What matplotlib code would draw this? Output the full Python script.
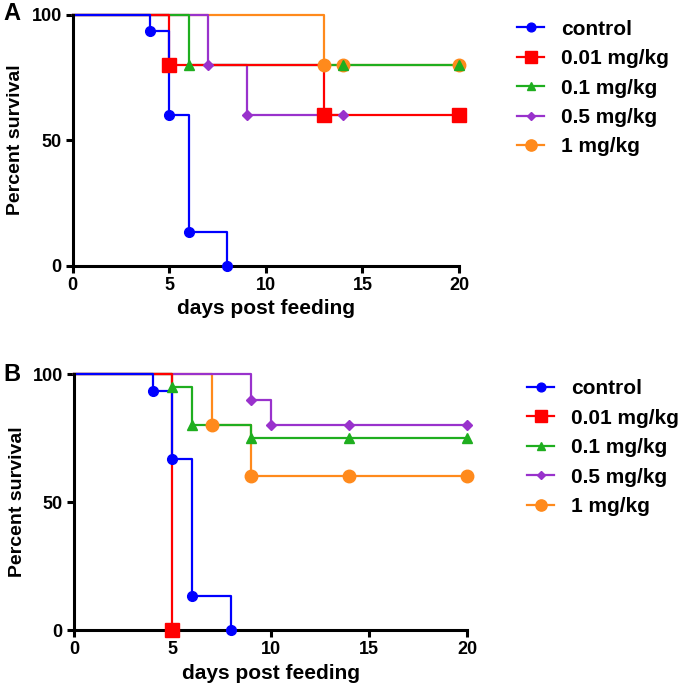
import matplotlib
matplotlib.use("Agg")
import matplotlib.pyplot as plt

plt.rcParams["font.family"] = ["Liberation Sans", "DejaVu Sans"]
plt.rcParams["font.weight"] = "bold"

labels = ["control", "0.01 mg/kg", "0.1 mg/kg", "0.5 mg/kg", "1 mg/kg"]
colors = ["#0000ff", "#ff0000", "#1fae1f", "#9932cc", "#ff8a1c"]
markers = ["o", "s", "^", "D", "o"]
msizes = [7, 9.5, 7, 5, 9]

# panel A: step days / percent survival (markers at every point after day 0)
a_control_t = [0, 4, 5, 6, 8]
a_control_s = [100, 93.3, 60, 13.3, 0]
a_001_t = [0, 5, 13, 20]
a_001_s = [100, 80, 60, 60]
a_01_t = [0, 6, 14, 20]
a_01_s = [100, 80, 80, 80]
a_05_t = [0, 7, 9, 14]
a_05_s = [100, 80, 60, 60]
a_1_t = [0, 13, 14, 20]
a_1_s = [100, 80, 80, 80]

# panel B
b_control_t = [0, 4, 5, 6, 8]
b_control_s = [100, 93.3, 66.7, 13.3, 0]
b_001_t = [0, 5]
b_001_s = [100, 0]
b_01_t = [0, 5, 6, 9, 14, 20]
b_01_s = [100, 95, 80, 75, 75, 75]
b_05_t = [0, 9, 10, 14, 20]
b_05_s = [100, 90, 80, 80, 80]
b_1_t = [0, 7, 9, 14, 20]
b_1_s = [100, 80, 60, 60, 60]

panel_a = [(a_control_t, a_control_s), (a_001_t, a_001_s), (a_01_t, a_01_s),
           (a_05_t, a_05_s), (a_1_t, a_1_s)]
panel_b = [(b_control_t, b_control_s), (b_001_t, b_001_s), (b_01_t, b_01_s),
           (b_05_t, b_05_s), (b_1_t, b_1_s)]


def draw_panel(ax, series):
    # reversed so control / red sit on top like the original
    for i in reversed(range(len(series))):
        t, s = series[i]
        ax.step(t, s, where="post", color=colors[i], lw=1.6, clip_on=False, zorder=2)
        ax.plot(t[1:], s[1:], ls="none", marker=markers[i], ms=msizes[i],
                color=colors[i], mec=colors[i], clip_on=False, zorder=3 + (4 - i) * 0.1)
    ax.set_xlim(0, 20)
    ax.set_ylim(0, 100)
    ax.set_xticks([0, 5, 10, 15, 20])
    ax.set_yticks([0, 50, 100])
    for sp in ["top", "right"]:
        ax.spines[sp].set_visible(False)
    for sp in ["left", "bottom"]:
        ax.spines[sp].set_linewidth(2.2)
    ax.tick_params(width=2.2, length=5, labelsize=13, pad=3)
    for lab in ax.get_xticklabels() + ax.get_yticklabels():
        lab.set_fontweight("bold")
    ax.set_xlabel("days post feeding", fontsize=15, fontweight="bold", labelpad=4)
    ax.set_ylabel("Percent survival", fontsize=14, fontweight="bold", labelpad=5)


fig = plt.figure(figsize=(6.8, 6.93), dpi=100)
ax_a = fig.add_axes([0.107, 0.6166, 0.568, 0.3624])
ax_b = fig.add_axes([0.1088, 0.0909, 0.578, 0.3694])
draw_panel(ax_a, panel_a)
draw_panel(ax_b, panel_b)

handles = [plt.Line2D([], [], color=colors[i], lw=1.6, marker=markers[i],
                      ms=msizes[i] * 0.9) for i in range(5)]
for anchor in [(0.748, 0.9835), (0.763, 0.4646)]:
    fig.legend(handles, labels, loc="upper left", bbox_to_anchor=anchor,
               frameon=False, handlelength=1.3, handletextpad=0.8,
               labelspacing=0.5, borderaxespad=0,
               prop={"weight": "bold", "size": 15})

fig.text(0.005, 0.98, "A", fontsize=17, fontweight="bold", va="center")
fig.text(0.005, 0.46, "B", fontsize=17, fontweight="bold", va="center")

fig.savefig("out.png", dpi=100)
